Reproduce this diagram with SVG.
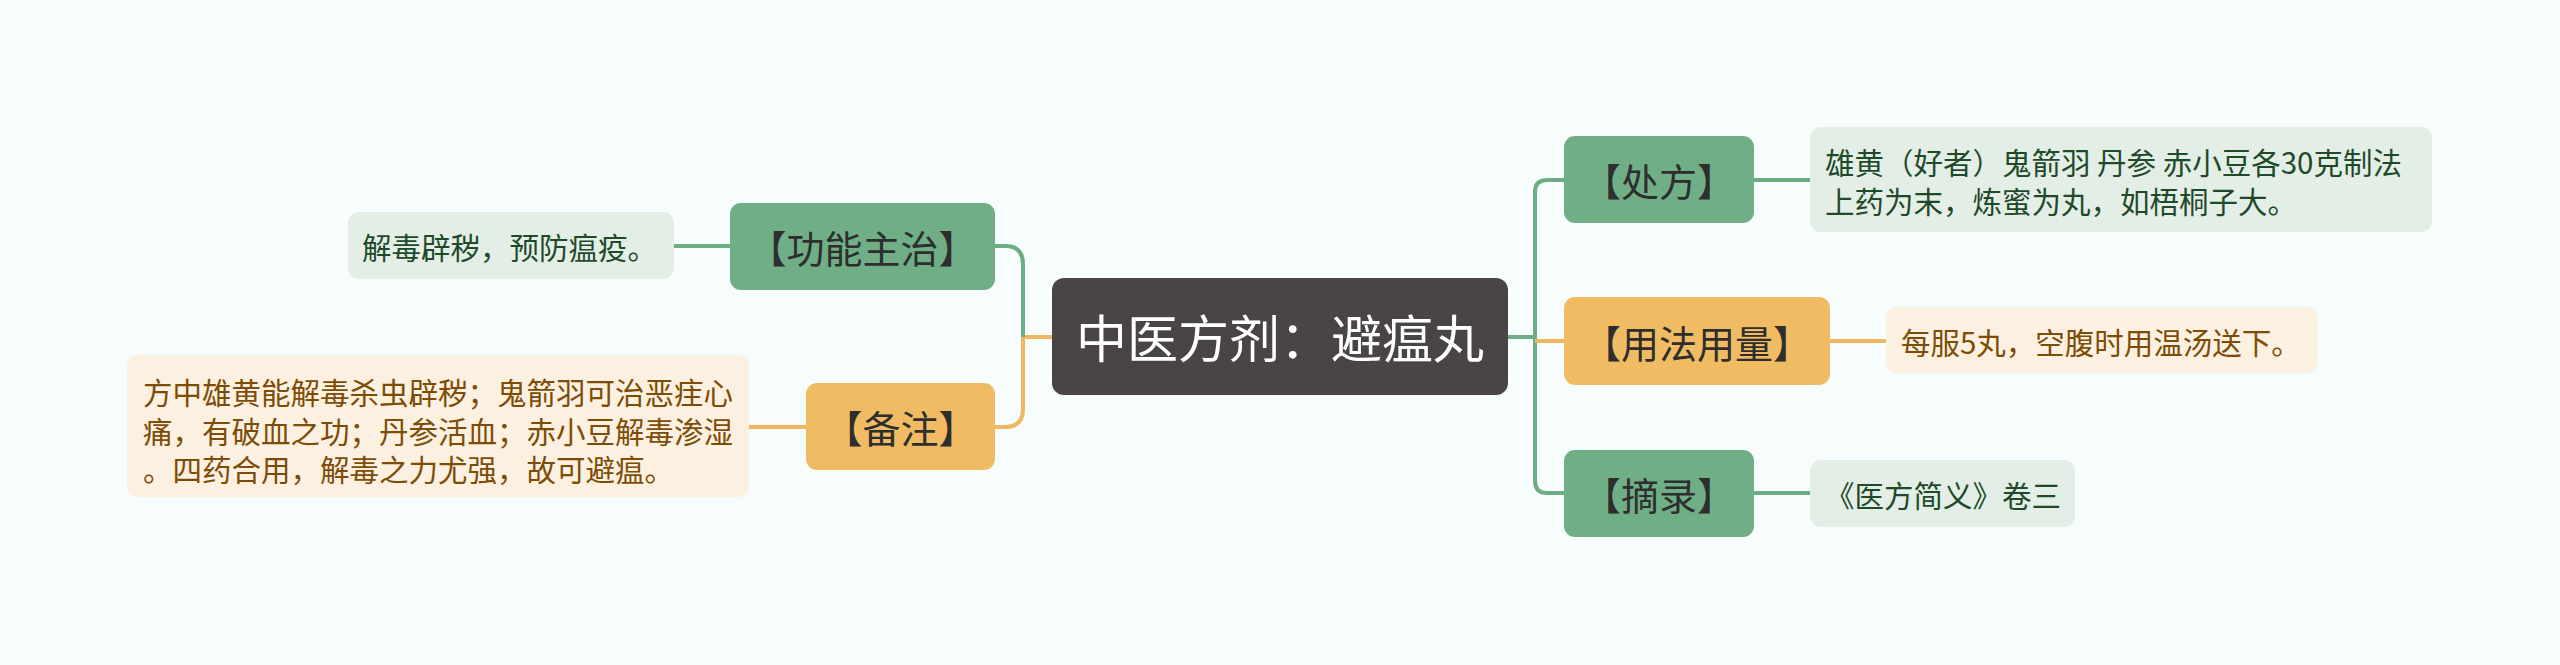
<svg xmlns="http://www.w3.org/2000/svg" width="2560" height="665" viewBox="0 0 2560 665">
<style>
text{font-family:"Noto Sans CJK SC","Noto Sans",sans-serif;dominant-baseline:central}
.g{fill:#70af86}
.o{fill:#f0bb62}
.gt{fill:#e3efe6}
.ot{fill:#fcf0e1}
.lbl{font-size:38px;fill:#2e2e2e;text-anchor:middle}
.tg{font-size:29.5px;fill:#1f4a2a}
.to{font-size:29.5px;fill:#7d4c05}
.lg{fill:none;stroke:#6dad84;stroke-width:4}
.lo{fill:none;stroke:#efb860;stroke-width:4}
</style>
<rect width="2560" height="665" fill="#f7fcfc"/>
<g id="connectors">
<path class="lg" d="M1508,337 H1535"/>
<path class="lg" d="M1564,180 H1547 Q1535,180 1535,192 V481 Q1535,493 1547,493 H1564"/>
<path class="lo" d="M1535,341 H1564"/>
<path class="lg" d="M1754,180 H1810"/>
<path class="lo" d="M1830,341 H1886"/>
<path class="lg" d="M1754,493 H1810"/>
<path class="lo" d="M1052,337 H1023"/>
<path class="lg" d="M995,246 H1005 Q1023,246 1023,264 V337"/>
<path class="lo" d="M1023,337 V409 Q1023,427 1005,427 H995"/>
<path class="lg" d="M730,246 H674"/>
<path class="lo" d="M806,427 H749"/>
</g>
<g id="root">
<rect x="1052" y="278" width="456" height="117" rx="12" fill="#4a4545"/>
<text x="1280" y="336" font-size="51" fill="#ffffff" text-anchor="middle">中医方剂：避瘟丸</text>
</g>
<g id="n-chufang">
<rect class="g" x="1564" y="136" width="190" height="87" rx="11"/>
<text class="lbl" x="1659" y="179.5">【处方】</text>
</g>
<g id="t-chufang">
<rect class="gt" x="1810" y="127" width="622" height="105" rx="11"/>
<text class="tg" x="1825" y="161">雄黄（好者）鬼箭羽 丹参 赤小豆各30克制法</text>
<text class="tg" x="1825" y="200">上药为末，炼蜜为丸，如梧桐子大。</text>
</g>
<g id="n-yongfa">
<rect class="o" x="1564" y="297" width="266" height="88" rx="11"/>
<text class="lbl" x="1697" y="341">【用法用量】</text>
</g>
<g id="t-yongfa">
<rect class="ot" x="1886" y="307" width="432" height="66" rx="11"/>
<text class="to" x="1901" y="341">每服5丸，空腹时用温汤送下。</text>
</g>
<g id="n-zhailu">
<rect class="g" x="1564" y="450" width="190" height="87" rx="11"/>
<text class="lbl" x="1659" y="493.5">【摘录】</text>
</g>
<g id="t-zhailu">
<rect class="gt" x="1810" y="460" width="265" height="67" rx="11"/>
<text class="tg" x="1825" y="493.5">《医方简义》卷三</text>
</g>
<g id="n-gongneng">
<rect class="g" x="730" y="203" width="265" height="87" rx="11"/>
<text class="lbl" x="862.5" y="246.5">【功能主治】</text>
</g>
<g id="t-gongneng">
<rect class="gt" x="348" y="212" width="326" height="67" rx="11"/>
<text class="tg" x="362" y="245.5">解毒辟秽，预防瘟疫。</text>
</g>
<g id="n-beizhu">
<rect class="o" x="806" y="383" width="189" height="87" rx="11"/>
<text class="lbl" x="900.5" y="426.5">【备注】</text>
</g>
<g id="t-beizhu">
<rect class="ot" x="127" y="355" width="622" height="142" rx="11"/>
<text class="to" x="143" y="391">方中雄黄能解毒杀虫辟秽；鬼箭羽可治恶疰心</text>
<text class="to" x="143" y="429.5">痛，有破血之功；丹参活血；赤小豆解毒渗湿</text>
<text class="to" x="143" y="468">。四药合用，解毒之力尤强，故可避瘟。</text>
</g>
</svg>
